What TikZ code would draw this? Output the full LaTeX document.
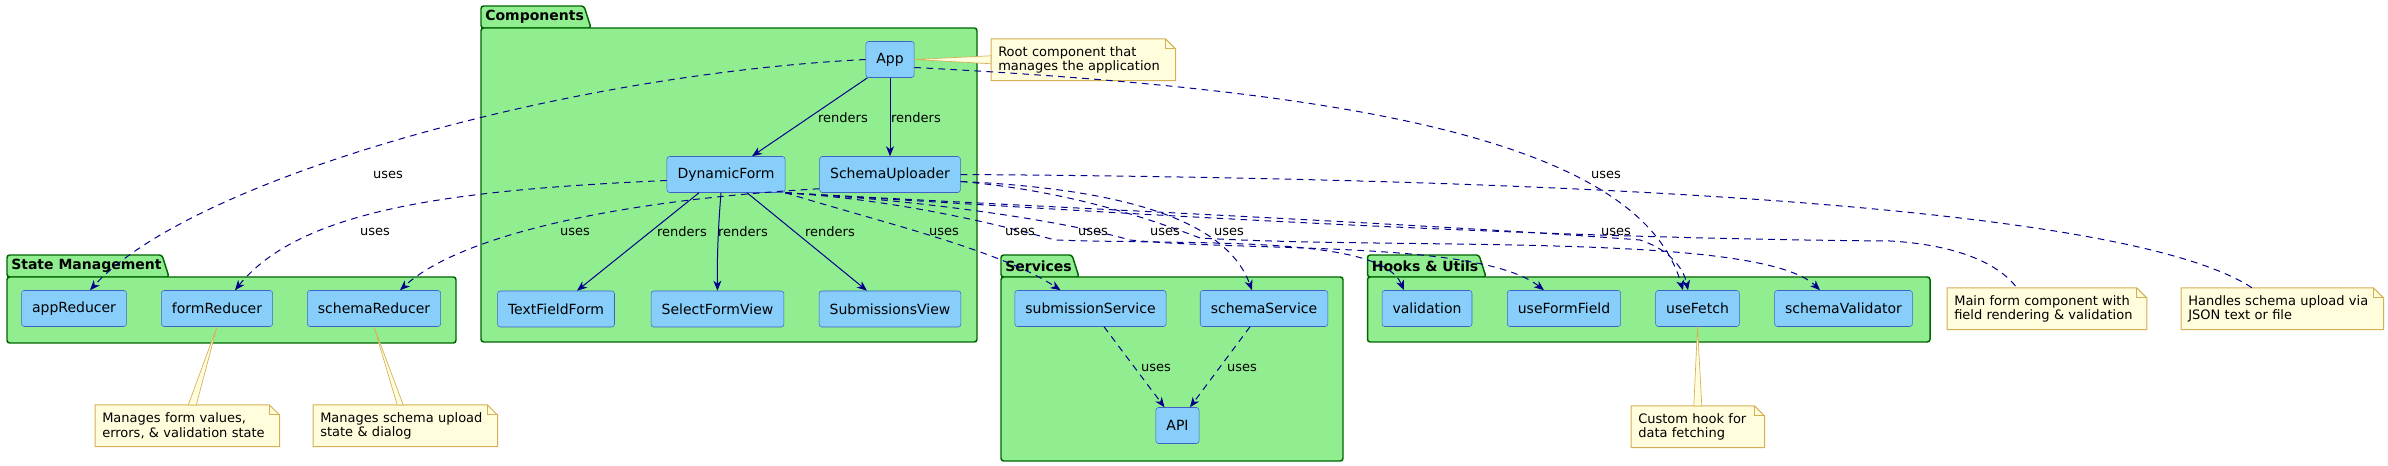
\documentclass[tikz,border=0pt]{standalone}
\usepackage{fontspec}
\setmainfont{DejaVu Sans}
\usetikzlibrary{arrows.meta, positioning, calc}

\definecolor{pkgfill}{HTML}{90EE90}
\definecolor{pkgline}{HTML}{006400}
\definecolor{boxfill}{HTML}{87CEFA}
\definecolor{boxline}{HTML}{3F62C8}
\definecolor{arrowblue}{HTML}{00008B}
\definecolor{notefill}{HTML}{FFFDDC}
\definecolor{noteline}{HTML}{D4AF55}

\begin{document}
\begin{tikzpicture}[x=0.75pt, y=-0.75pt,
  >={Stealth[length=7.5pt,width=6pt,inset=2.25pt]},
  pkg/.style={fill=pkgfill, draw=pkgline, line width=1.1pt},
  comp/.style={draw=boxline, fill=boxfill, rounded corners=2pt, minimum height=27pt, inner xsep=7.9pt, font=\fontsize{10.5}{12}\selectfont},
  renders/.style={->, arrowblue, line width=0.75pt},
  dashlink/.style={arrowblue, line width=0.75pt, dash pattern=on 5pt off 4pt},
  uses/.style={dashlink, ->},
  lbl/.style={text=black, font=\fontsize{9.75}{11}\selectfont, inner sep=0pt},
  memo/.style={fill=notefill, anchor=north west, align=left, inner xsep=5.25pt, minimum height=30.75pt, font=\fontsize{9.75}{10.9}\selectfont},
  memolink/.style={fill=notefill, draw=noteline, line width=0.5pt}]
\useasboundingbox (0,0) rectangle (2388,466);

% packages
\foreach \l/\t/\tr/\r/\b/\name in {7/255/169/456/343/State Management, 481/6/591/977/342/Components, 1001/255/1079/1343/461/Services, 1367.5/255/1486/1930/342/Hooks \& Utils}{
  \filldraw[pkg, rounded corners=2pt] (\l,\t+22) -- (\l,\t) -- (\tr-7,\t) -- (\tr,\t+22) -- cycle;
  \filldraw[pkg, rounded corners=2pt] (\l,\t+22) rectangle (\r,\b);
  \node[anchor=west, inner sep=0pt, font=\bfseries\fontsize{10.5}{12}\selectfont] at (\l+4,\t+11) {\name};
}

% components
\node[comp] (app) at (890,59.5) {App};
\node[comp] (dynForm) at (726,174.5) {DynamicForm};
\node[comp] (schemaUp) at (890,174.5) {SchemaUploader};
\node[comp] (textField) at (556,309) {TextFieldForm};
\node[comp] (selectView) at (717.5,309) {SelectFormView};
\node[comp] (subView) at (890,309) {SubmissionsView};
% state management
\node[comp] (appRed) at (74,308.5) {appReducer};
\node[comp] (formRed) at (217,308.5) {formReducer};
\node[comp] (schemaRed) at (374,308.5) {schemaReducer};
% services
\node[comp] (subSvc) at (1090.5,308.5) {submissionService};
\node[comp] (schemaSvc) at (1264,308.5) {schemaService};
\node[comp] (api) at (1177.5,425.5) {API};
% hooks and utils
\node[comp] (validation) at (1427,308.5) {validation};
\node[comp] (formField) at (1564,308.5) {useFormField};
\node[comp] (fetch) at (1697.5,308.5) {useFetch};
\node[comp] (schemaVal) at (1843.5,308.5) {schemaValidator};

% notes
\node[memo, text width=127.5pt] (nApp) at (991,39) {Root component that\\manages the application};
\node[memo, text width=127.5pt] (nForm) at (95,405) {Manages form values,\\errors, \& validation state};
\node[memo, text width=127.5pt] (nSchema) at (313,405) {Manages schema upload\\state \& dialog};
\node[memo, text width=89.25pt] (nFetch) at (1631,406) {Custom hook for\\data fetching};
\node[memo, text width=139pt] (nDyn) at (1947,288) {Main form component with\\field rendering \& validation};
\node[memo, text width=141pt] (nUpl) at (2181,288) {Handles schema upload via\\JSON text or file};
\foreach \n in {nApp, nForm, nSchema, nFetch, nDyn, nUpl}{
  \fill[white] ([xshift=-7.5pt]\n.north east) -- (\n.north east) -- ([yshift=-7.5pt]\n.north east) -- cycle;
  \draw[noteline, line width=0.75pt] (\n.north west) -- ([xshift=-7.5pt]\n.north east) -- ([yshift=-7.5pt]\n.north east) -- (\n.south east) -- (\n.south west) -- cycle;
  \draw[noteline, line width=0.75pt] ([xshift=-7.5pt]\n.north east) |- ([yshift=-7.5pt]\n.north east);
}
\filldraw[memolink] (app.east) -- ($(nApp.west)+(0,-4)$) -- ($(nApp.west)+(0,4)$) -- cycle;
\filldraw[memolink] (formRed.south) -- ($(nForm.north)+(1,0)$) -- ($(nForm.north)+(9,0)$) -- cycle;
\filldraw[memolink] (schemaRed.south) -- ($(nSchema.north)+(-8,0)$) -- ($(nSchema.north)+(-2,0)$) -- cycle;
\filldraw[memolink] (fetch.south) -- ($(nFetch.north)+(-4,0)$) -- ($(nFetch.north)+(4,0)$) -- cycle;

% renders
\draw[renders] ($(app.south west)+(2,0)$) -- ($(dynForm.north)+(26,0)$) node[lbl] at (843,118) {renders};
\draw[renders] (app) -- (schemaUp) node[lbl] at (916,118) {renders};
\draw[renders] ($(dynForm.south)+(-27,0)$) -- ($(textField.north)+(21,0)$) node[lbl] at (682,232) {renders};
\draw[renders] ($(dynForm.south)+(-5,0)$) .. controls (718,230) and (717,260) .. (selectView.north) node[lbl] at (743,232) {renders};
\draw[renders] ($(dynForm.south)+(21,0)$) -- ($(subView.north)+(-23,0)$) node[lbl] at (830,232) {renders};

% uses, to the left
\draw[uses] (app.west) .. controls (560,75) and (190,180) .. ($(appRed.north)+(16,0)$) node[lbl] at (388,175) {uses};
\draw[uses] ($(dynForm.west)+(0,6)$) .. controls (450,190) and (300,210) .. ($(formRed.north)+(18,0)$) node[lbl] at (375,232) {uses};
\draw[uses] ($(schemaUp.south west)+(0,-4)$) .. controls (620,200) and (460,235) .. ($(schemaRed.north)+(26,0)$) node[lbl] at (575,232) {uses};

% uses, to the right
\draw[uses] (dynForm.south east) .. controls (880,222) and (1000,250) .. ($(subSvc.north)+(-30,0)$) node[lbl] at (944,232) {uses};
\draw[uses] (dynForm.south east) .. controls (900,200) and (1000,225) .. (1055,240) .. controls (1200,245) and (1380,235) .. ($(validation.north)+(-23,0)$) node[lbl] at (1020,232) {uses};
\draw[uses] (dynForm.south east) .. controls (920,200) and (1060,220) .. (1130,240) .. controls (1250,252) and (1480,240) .. ($(formField.north)+(-20,0)$) node[lbl] at (1093,232) {uses};
\draw[uses] (dynForm.south east) .. controls (1000,205) and (1450,225) .. (1640,240) .. controls (1665,248) and (1683,265) .. ($(fetch.north)+(-9.5,0)$) node[lbl] at (1616,232) {uses};
\draw[uses] ($(schemaUp.east)+(0,7)$) .. controls (1060,190) and (1140,215) .. (1200,238) .. controls (1400,250) and (1760,232) .. ($(schemaVal.north)+(-23.5,0)$) node[lbl] at (1165,232) {uses};
\draw[uses] ($(schemaUp.east)+(0,7)$) .. controls (1150,190) and (1230,230) .. ($(schemaSvc.north)+(-12,0)$) node[lbl] at (1229,232) {uses};
\draw[uses] ($(app.east)+(0,8)$) .. controls (1350,90) and (1640,140) .. ($(fetch.north)+(-14.5,0)$) node[lbl] at (1606,175) {uses};
\draw[uses] ($(subSvc.south)+(13.5,0)$) -- ($(api.north)+(-13,0)$) node[lbl] at (1156,368) {uses};
\draw[uses] ($(schemaSvc.south)+(-14,0)$) -- ($(api.north)+(12.5,0)$) node[lbl] at (1242,368) {uses};

% note links
\draw[dashlink] (dynForm.south east) .. controls (1100,212) and (1500,238) .. (1890,241) .. controls (1960,245) and (2000,265) .. ($(nDyn.north)+(-30,0)$);
\draw[dashlink] (schemaUp.east) .. controls (1500,178) and (2120,200) .. ($(nUpl.north)+(-30,0)$);
\end{tikzpicture}
\end{document}
